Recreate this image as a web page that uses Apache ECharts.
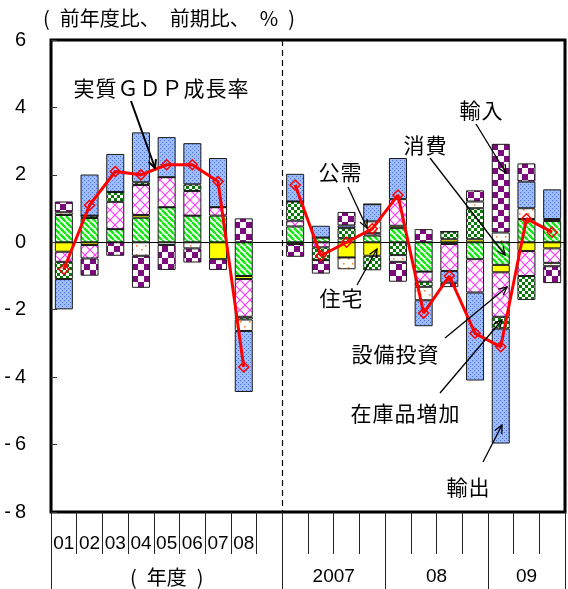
<!DOCTYPE html>
<html>
<head>
<meta charset="utf-8">
<script src="https://cdn.jsdelivr.net/npm/echarts@6/dist/echarts.min.js"></script>
<style>
  html, body { margin: 0; padding: 0; background: #fff; }
  #chart { width: 568px; height: 589px; }
</style>
</head>
<body>
<div id="chart"></div>
<script>
// Categories: fiscal years 01-08, a spacer slot, then quarters 2007Q1 - 2009Q3
const categories = ['01', '02', '03', '04', '05', '06', '07', '08', 'gap',
  '07Q1', '07Q2', '07Q3', '07Q4', '08Q1', '08Q2', '08Q3', '08Q4', '09Q1', '09Q2', '09Q3'];
const fiscalLabels = ['01', '02', '03', '04', '05', '06', '07', '08'];

// Contributions to real GDP growth (percentage points)
const consumption = [0.81, 0.72, 0.39, 0.73, 1.04, 0.79, 0.79, -1.00, null, 0.47, 0.14, 0.12, 0.20, 0.42, -0.87, -0.05, -0.50, -0.67, 0.69, 0.63];
const housing     = [-0.28, -0.08, 0, 0.08, 0, 0, -0.50, -0.09, null, -0.05, 0, -0.45, -0.40, 0.07, 0, 0.09, 0.09, -0.22, -0.26, -0.18];
const capex       = [-0.30, -0.40, 0.81, 0.89, 0.89, 0.73, 0.25, -1.12, null, 0.17, -0.15, 0, 0.07, 0.79, -0.30, -0.80, -0.99, -1.32, -0.74, -0.43];
const inventory   = [-0.51, 0.07, 0.29, 0.08, 0, 0.20, 0, -0.08, null, 0.57, -0.38, 0.30, -0.43, -0.38, -0.15, 0.23, 0.92, -0.35, -0.71, 0.06];
const publicDemand= [0.08, 0, 0, -0.40, -0.08, -0.18, 0, -0.34, null, 0, 0, -0.35, 0.35, -0.20, -0.40, 0, 0.20, 0.29, 0.32, -0.10];
const exportsC    = [-0.90, 1.22, 1.13, 1.48, 1.19, 1.22, 1.46, -1.81, null, 0.82, 0.35, 0.08, 0.51, 1.22, -0.77, -0.35, -2.61, -3.41, 0.79, 0.88];
const importsC    = [0.32, -0.51, -0.40, -0.95, -0.74, -0.42, -0.32, 0.71, null, -0.38, -0.40, 0.40, 0, -0.59, 0.39, -0.13, 0.33, 2.63, 0.54, -0.50];
// Real GDP growth rate (%)
const gdpGrowth   = [-0.8, 1.1, 2.1, 2.0, 2.3, 2.3, 1.8, -3.7, null, 1.7, -0.4, 0.0, 0.4, 1.4, -2.1, -1.0, -2.7, -3.1, 0.7, 0.3];

// Group captions under the axis, placed in category units
const groupCaptions = { 4.5: '{ja|(\u2002年度\u2002)}', 11: '2007', 15: '08', 18.5: '09' };
const groupStarts = [0, 9, 13, 17];

const fontLatin = '"Liberation Sans", Arial, sans-serif';
const fontJa = '"Noto Sans CJK JP", sans-serif';

// Fill textures for the stacked segments
function tile(w, h, draw, bg) {
  const c = document.createElement('canvas');
  c.width = w; c.height = h;
  const g = c.getContext('2d');
  g.fillStyle = bg || '#fff';
  g.fillRect(0, 0, w, h);
  draw(g, w, h);
  return { image: c, repeat: 'repeat' };
}
function diag(g, w, h, down) {
  for (let k = -w; k <= w; k += w) {
    g.beginPath();
    if (down) { g.moveTo(k, 0); g.lineTo(k + w, h); }
    else { g.moveTo(k, h); g.lineTo(k + w, 0); }
    g.stroke();
  }
}
const fillConsumption = tile(6, 6, (g, w, h) => { g.strokeStyle = '#16e616'; g.lineWidth = 2.6; diag(g, w, h, true); });
const fillHousing = '#ffff00';
const fillCapex = tile(10, 10, (g, w, h) => { g.strokeStyle = '#ff3cff'; g.lineWidth = 1.2; diag(g, w, h, true); diag(g, w, h, false); });
const fillInventory = tile(6, 6, (g) => { g.fillStyle = '#087a08'; g.fillRect(0, 0, 3, 3); g.fillRect(3, 3, 3, 3); });
const fillPublic = tile(9, 9, (g) => { g.fillStyle = '#ff8a2a'; g.fillRect(1, 2, 1.6, 1.6); g.fillRect(6, 6, 1.6, 1.6); });
const fillExports = tile(4, 4, (g) => { g.fillStyle = '#4a70e0'; g.fillRect(0, 0, 1, 1); g.fillRect(2, 2, 1, 1); }, '#9dbcf8');
const fillImports = tile(12, 12, (g) => { g.fillStyle = '#7d0a7d'; g.fillRect(0, 0, 6, 6); g.fillRect(6, 6, 6, 6); });

function barSeries(name, data, fill) {
  return {
    name, type: 'bar', stack: 'contrib', data, barWidth: 18,
    xAxisIndex: 0, yAxisIndex: 0,
    itemStyle: { color: fill, borderColor: '#1a1a1a', borderWidth: 1 },
    emphasis: { disabled: true }, silent: true
  };
}

// Annotation helpers: evenly spaced Japanese labels and line arrows
function spaced(text) {
  return Array.from(text).map((ch) => '{s|' + ch + '}').join('');
}
function label(text, x, y) {
  return { type: 'text', x, y, z: 50,
    style: {
      text: spaced(text), align: 'center', verticalAlign: 'middle',
      rich: { s: { fontSize: 21, fontFamily: fontJa, fill: '#000', padding: [0, 0.5] } }
    } };
}
function arrow(x1, y1, x2, y2, w) {
  const a = Math.atan2(y2 - y1, x2 - x1), L = 9, s = 0.45;
  return [
    { type: 'line', shape: { x1, y1, x2, y2 }, style: { stroke: '#000', lineWidth: w }, z: 50 },
    { type: 'polyline', shape: { points: [
      [x2 - L * Math.cos(a - s), y2 - L * Math.sin(a - s)], [x2, y2],
      [x2 - L * Math.cos(a + s), y2 - L * Math.sin(a + s)]] },
      style: { stroke: '#000', lineWidth: w, fill: null }, z: 50 }
  ];
}

const chart = echarts.init(document.getElementById('chart'));
const isAnnual = (i) => i < fiscalLabels.length;

const option = {
  animation: false,
  grid: { left: 51, top: 40, width: 520, height: 472, show: true, borderColor: '#000', borderWidth: 3, backgroundColor: 'rgba(0,0,0,0)' },
  xAxis: [
    { // category axis crossing at zero
      type: 'category', data: categories, position: 'bottom',
      axisLine: { onZero: true, lineStyle: { color: '#000', width: 1 } },
      axisTick: { inside: true, length: 4, interval: 0, lineStyle: { color: '#333' } },
      axisLabel: { show: false }, splitLine: { show: false }
    },
    { // fiscal-year labels with short dividers, plus the dashed section divider
      type: 'category', data: categories, position: 'bottom',
      axisLine: { onZero: false, show: false },
      axisTick: { show: true, length: 42, interval: 0, lineStyle: { color: '#222', width: 1 } },
      axisLabel: {
        interval: 0, margin: 22, fontSize: 19, fontFamily: fontLatin, color: '#000',
        formatter: (v, i) => isAnnual(i) ? fiscalLabels[i] : ''
      },
      splitLine: { show: true, interval: (i) => i === 0 || i === 9, lineStyle: { color: '#000', width: 1.2, type: [6, 4] } }
    },
    { // long dividers between groups
      type: 'category', data: categories, position: 'bottom',
      axisLine: { onZero: false, show: false },
      axisTick: { show: true, length: 80, interval: (i) => groupStarts.includes(i), lineStyle: { color: '#222', width: 1 } },
      axisLabel: { show: false }, splitLine: { show: false }
    },
    { // group captions
      type: 'value', min: 0, max: 20, interval: 0.5, position: 'bottom',
      axisLine: { onZero: false, show: false }, axisTick: { show: false }, splitLine: { show: false },
      axisLabel: {
        margin: 55, fontSize: 19, fontFamily: fontLatin, color: '#000',
        showMinLabel: true, showMaxLabel: true,
        formatter: (v) => groupCaptions[v] || '',
        rich: { ja: { fontSize: 20, fontFamily: fontJa, color: '#000' } }
      }
    }
  ],
  yAxis: {
    type: 'value', min: -8, max: 6, interval: 2,
    axisLine: { show: false },
    axisTick: { show: true, inside: true, length: 6, lineStyle: { color: '#333' } },
    splitLine: { show: false },
    axisLabel: {
      margin: 25, fontSize: 20, fontFamily: fontLatin, color: '#000',
      formatter: (v) => v < 0 ? '-\u2009' + (-v) : String(v)
    }
  },
  series: [
    barSeries('消費', consumption, fillConsumption),
    barSeries('住宅', housing, fillHousing),
    barSeries('設備投資', capex, fillCapex),
    barSeries('在庫品増加', inventory, fillInventory),
    barSeries('公需', publicDemand, fillPublic),
    barSeries('輸出', exportsC, fillExports),
    barSeries('輸入', importsC, fillImports),
    {
      name: '実質ＧＤＰ成長率', type: 'line', data: gdpGrowth, xAxisIndex: 0, yAxisIndex: 0,
      z: 10, silent: true,
      lineStyle: { color: '#ff0000', width: 3 },
      symbol: 'diamond', symbolSize: 10, showSymbol: true,
      itemStyle: { color: 'rgba(255,255,255,0)', borderColor: '#ff0000', borderWidth: 1.5 }
    }
  ],
  graphic: [
    { type: 'text', x: 43, y: 18, z: 50,
      style: { text: '(\u2002前年度比、\u2002前期比、\u2002%\u2002)', fontSize: 20, fontFamily: fontJa, fill: '#000', align: 'left', verticalAlign: 'middle' } },
    label('実質ＧＤＰ成長率', 161, 88), ...arrow(131, 101, 155, 168, 2),
    label('輸入', 481, 110), ...arrow(476, 124, 506, 173, 1.3),
    label('消費', 425, 145), ...arrow(430, 158, 505, 255, 1.3),
    label('公需', 340, 172), ...arrow(348, 187, 367, 228, 1.3),
    label('住宅', 341, 298), ...arrow(357, 285, 377, 249, 1.3),
    label('設備投資', 395, 354), ...arrow(445, 338, 507, 287, 1.3),
    label('在庫品増加', 405, 413), ...arrow(440, 393, 502, 320, 1.3),
    label('輸出', 468, 487), ...arrow(483, 462, 502, 425, 1.3)
  ]
};
chart.setOption(option);
</script>
</body>
</html>
